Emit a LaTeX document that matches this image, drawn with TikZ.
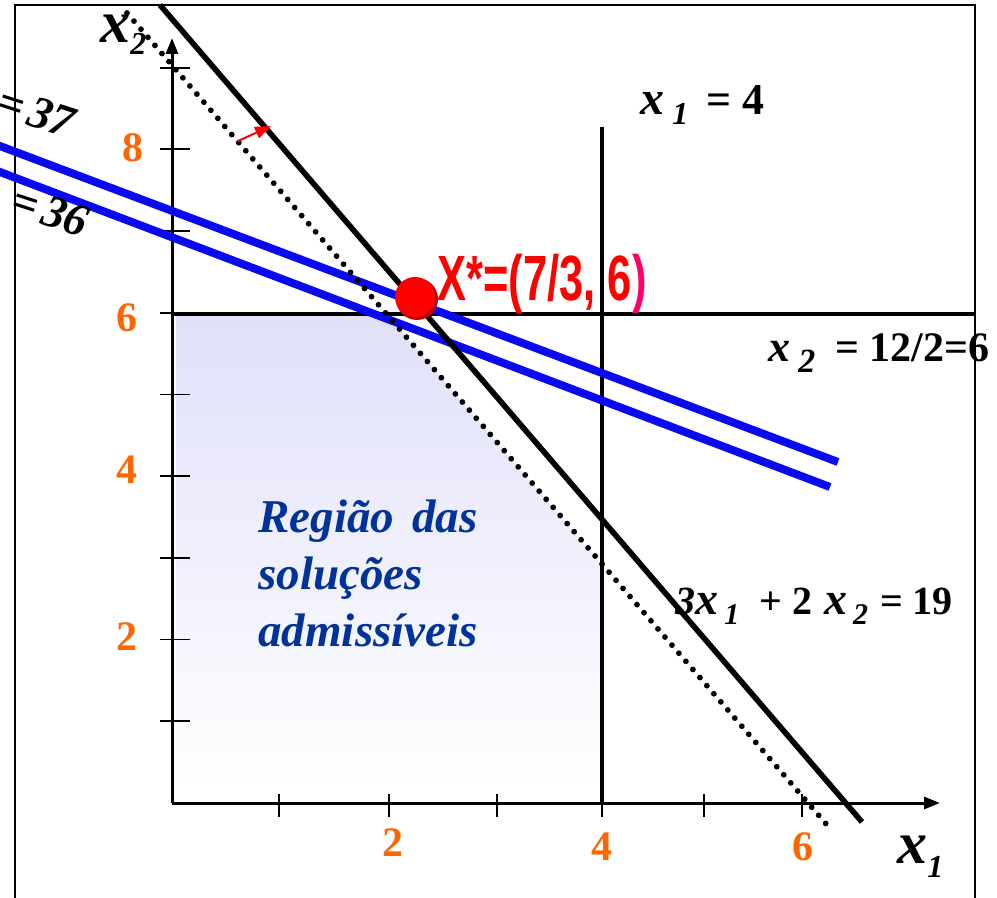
\documentclass[tikz,border=0pt]{standalone}
\usepackage{fontspec}
\setmainfont{Liberation Serif}
\newfontfamily\arialfont{Liberation Sans}
\usetikzlibrary{arrows.meta}
\definecolor{tickorange}{RGB}{255,102,0}
\definecolor{regionblue}{RGB}{0,51,153}
\definecolor{regionfill}{RGB}{224,224,250}
\definecolor{objblue}{RGB}{10,10,240}
\definecolor{optpink}{RGB}{255,0,102}
\newcommand{\bx}[1]{{\fontsize{#1}{#1}\selectfont\bfseries\itshape x}}
\newcommand{\lowsub}[3]{\raisebox{-#2}{\fontsize{#1}{#1}\selectfont\bfseries\itshape #3}}

\begin{document}
\begin{tikzpicture}[x=0.5pt,y=-0.5pt,
  axisline/.style={line width=1.5pt},
  tickmark/.style={line width=0.9pt},
  tickval/.style={text=tickorange,font=\fontsize{21}{21}\selectfont\bfseries,inner sep=0pt},
  bound/.style={line width=1.6pt},
  objline/.style={objblue,line width=4pt},
  lbl/.style={inner sep=0pt,anchor=base west}]
  \useasboundingbox (0,0) rectangle (997,898);

  % frame, open at the bottom
  \draw[line width=1pt] (15,898) -- (15,5) -- (975,5) -- (975,898);

  \coordinate (O) at (172,803);
  \coordinate (xtip) at (940,803);
  \coordinate (ytip) at (172,38);

  % feasible region
  \shade[top color=regionfill,bottom color=white]
    (176,316) -- (388,316) -- (602,565) -- (602,790) -- (176,790) -- cycle;

  % constraints x1 = 4 and x2 = 6
  \coordinate (v4top) at (602,127);
  \coordinate (v4bot) at (602,803);
  \coordinate (h6left) at (172,314);
  \coordinate (h6right) at (975,314);
  \draw[bound] (h6left) -- (h6right);
  \draw[bound] (v4top) -- (v4bot);

  % axes
  \draw[axisline,-{Triangle[length=8pt,width=6pt]}] (O) -- (xtip);
  \draw[axisline,-{Triangle[length=8pt,width=6pt]}] (O) -- (ytip);
  \foreach \tx in {279,389,497,602,704,802}
    \draw[tickmark] (\tx,794) -- (\tx,817);
  \foreach \k in {1,...,9}
    \draw[tickmark] (160,{803-81.7*\k}) -- (190,{803-81.7*\k});

  \node[tickval] (t2) at (393,843) {2};
  \node[tickval] (t4) at (602,847) {4};
  \node[tickval] (t6) at (803,847) {6};
  \node[tickval] (s2) at (127,637) {2};
  \node[tickval] (s4) at (127,470) {4};
  \node[tickval] (s6) at (127,318) {6};
  \node[tickval] (s8) at (133,148) {8};

  % objective lines z = 37 and z = 36
  \coordinate (z37a) at (-20,138.5);
  \coordinate (z37b) at (838,462);
  \coordinate (z36a) at (-20,164.4);
  \coordinate (z36b) at (830,487);
  \draw[objline] (z37a) -- (z37b);
  \draw[objline] (z36a) -- (z36b);

  % 3x1 + 2x2 = 19 and its dotted parallel
  \coordinate (dota) at (127,13);
  \coordinate (dotb) at (827,825);
  \coordinate (c19a) at (160,5);
  \coordinate (c19b) at (862,822);
  \draw[line width=2.9pt,line cap=round,dash pattern=on 0pt off 5.35pt] (dota) -- (dotb);
  \draw[line width=2.8pt] (c19a) -- (c19b);

  \coordinate (gradbase) at (238,141);
  \coordinate (gradtip) at (271,126);
  \draw[red,line width=1pt,-{Triangle[length=8pt,width=6pt]}] (gradbase) -- (gradtip);

  % optimum
  \coordinate (opt) at (415,297);
  \fill[red!75!black] ([shift={(2,2)}]opt) circle (10.5pt);
  \fill[red] (opt) circle (10pt);
  \node[lbl,text=red] (optlabel) at (437,301)
    {\scalebox{0.68}[1]{\arialfont\bfseries\fontsize{32}{32}\selectfont X*=(7/3, 6\textcolor{optpink}{)}}};

  % labels
  \node[lbl] (x2axis) at (100,43) {\bx{30}\lowsub{16}{6pt}{2}};
  \node[lbl] (x1axis) at (897,863) {\bx{30}\lowsub{16}{7pt}{1}};
  \node[lbl] (lab4) at (640,115)
    {\bx{24}\hspace{4pt}\lowsub{16}{5pt}{1}\hspace{9pt}{\fontsize{22}{22}\selectfont\bfseries= 4}};
  \node[lbl] (lab6) at (768,362)
    {\bx{22}\hspace{4pt}\lowsub{17}{5.5pt}{2}\hspace{10pt}{\fontsize{21}{21}\selectfont\bfseries= 12/2=6}};
  \node[lbl] (lab19) at (675,615)
    {\fontsize{20}{20}\selectfont\bfseries\textit{3}\bx{23}\hspace{3pt}\lowsub{15}{5pt}{1}\hspace{10pt}+ 2\hspace{6pt}\bx{23}\hspace{3pt}\lowsub{15}{5pt}{2}\hspace{6pt}= 19};
  \node[lbl,rotate=-18] (lab37) at (-6,114)
    {\fontsize{23}{23}\selectfont\bfseries\itshape =\hspace{3pt}37};
  \node[lbl,rotate=-18] (lab36) at (8,213)
    {\fontsize{23}{23}\selectfont\bfseries\itshape =\hspace{3pt}36};
  \node[lbl,text=regionblue,text width=140pt,align=left,
    font=\fontsize{23.5}{28.5}\selectfont\bfseries\itshape] (region) at (258,533)
    {Região\hspace{9pt}das\\ soluções\\ admissíveis};
\end{tikzpicture}
\end{document}
